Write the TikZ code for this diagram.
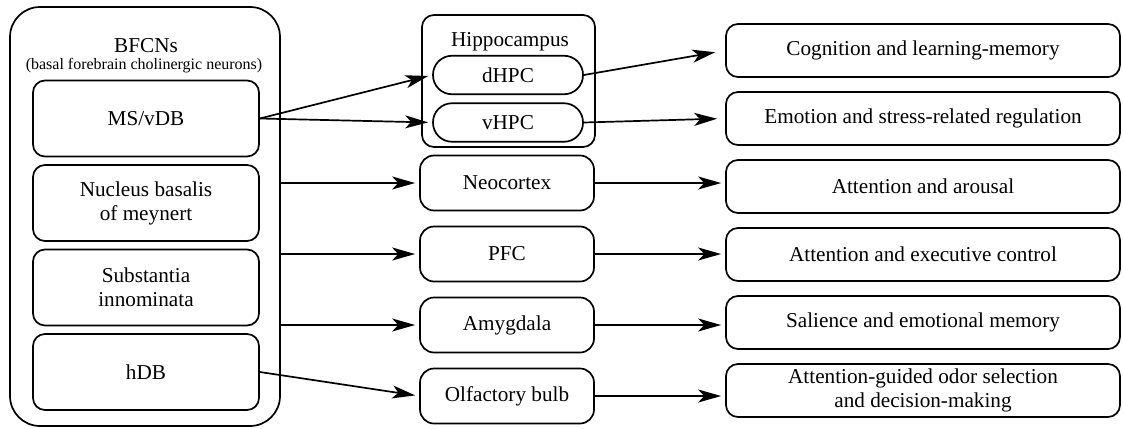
\documentclass[tikz,border=0pt]{standalone}
\usepackage{fontspec}
\setmainfont{Liberation Serif}
\usetikzlibrary{positioning, arrows.meta}

\tikzset{
  nucleus/.style={draw, rounded corners=6pt, inner sep=0pt, align=center, minimum width=113pt, minimum height=38pt},
  target/.style={draw, rounded corners=7pt, inner sep=0pt, align=center, minimum width=87pt, minimum height=27.5pt},
  subfield/.style={draw, rounded corners=9.5pt, inner sep=0pt, minimum width=75pt, minimum height=19.25pt},
  role/.style={draw, rounded corners=6pt, inner sep=0pt, align=center, minimum width=197pt, minimum height=26.5pt},
}

\begin{document}
\begin{tikzpicture}[x=0.5pt, y=-0.5pt, line width=0.85pt, >={Stealth[length=11.5pt, width=6.5pt, inset=3pt]},
    shorten >= 2pt, on grid, font=\fontsize{10.6}{12}\selectfont]
        \useasboundingbox (0,0) rectangle (1123,428);
        % basal forebrain
        \node[draw, rounded corners=15pt, minimum width=135pt, minimum height=209.5pt] (bfcn) at (145,216.5) {};
        \node (bfcntitle) at (146,46) {BFCNs};
        \node[font=\fontsize{8}{9.6}\selectfont] (bfcnsub) at (144,66) {(basal forebrain cholinergic neurons)};
        \node[nucleus] (msvdb) at (146,118.5) {MS/vDB};
        \node[nucleus] (nbm) [below=42.25pt of msvdb] {Nucleus basalis\\of meynert};
        \node[nucleus] (si) [below=42.25pt of nbm] {Substantia\\innominata};
        \node[nucleus] (hdb) [below=42.25pt of si] {hDB};
        % targets
        \node[draw, rounded corners=6pt, minimum width=86.5pt, minimum height=66pt] (hpc) at (508.5,81) {};
        \node (hpclabel) at (510,42) {Hippocampus};
        \node[subfield] (dhpc) at (508,75) {dHPC};
        \node[subfield] (vhpc) at (508,122.5) {vHPC};
        \node[target] (neo) at (507,183) {Neocortex};
        \node[target] (pfc) [below=35.5pt of neo] {PFC};
        \node[target] (amy) [below=35.5pt of pfc] {Amygdala};
        \node[target] (olf) [below=35.5pt of amy] {Olfactory bulb};
        % functions
        \node[role] (cog) at (923,50.5) {Cognition and learning-memory};
        \node[role] (emo) [below=34pt of cog] {Emotion and stress-related regulation};
        \node[role] (arousal) [below=34pt of emo] {Attention and arousal};
        \node[role] (exec) [below=34pt of arousal] {Attention and executive control};
        \node[role] (sal) [below=34pt of exec] {Salience and emotional memory};
        \node[role] (odor) [below=34pt of sal] {Attention-guided odor selection\\and decision-making};
        \path[->]
        (msvdb.east) edge (dhpc.west)
        (msvdb.east) edge (vhpc.west)
        (bfcn.east |- neo.west) edge (neo.west)
        (bfcn.east |- pfc.west) edge (pfc.west)
        (bfcn.east |- amy.west) edge (amy.west)
        (hdb.east) edge (olf.west)
        (dhpc.east) edge[shorten >= 5pt] (cog.west)
        (vhpc.east) edge[shorten >= 4pt] (emo.west)
        (neo.east) edge (neo.east -| arousal.west)
        (pfc.east) edge (pfc.east -| exec.west)
        (amy.east) edge (amy.east -| sal.west)
        (olf.east) edge (olf.east -| odor.west)
        ;
    \end{tikzpicture}
\end{document}
